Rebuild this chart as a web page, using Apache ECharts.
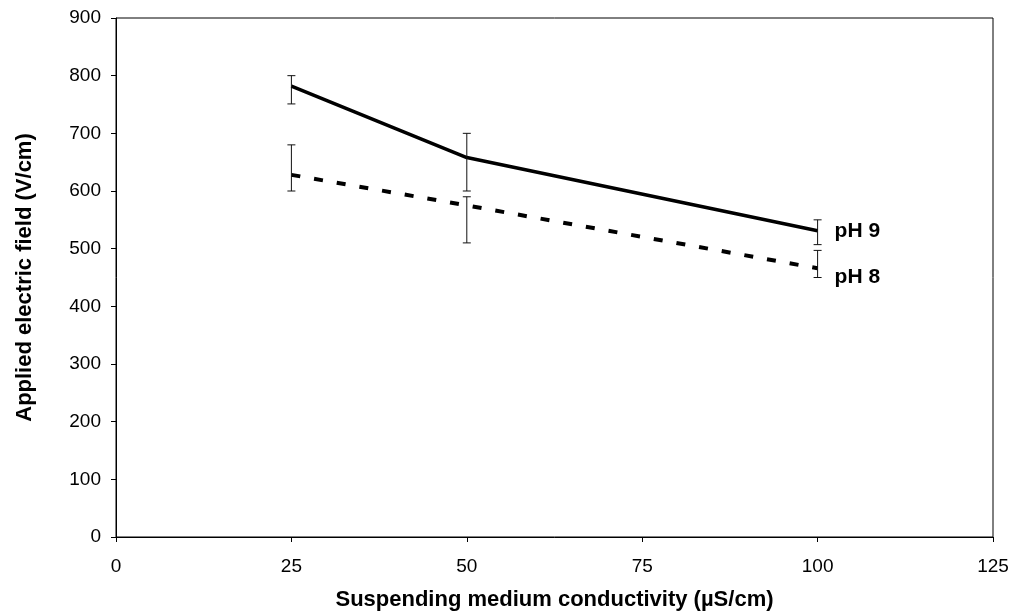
<!DOCTYPE html>
<html>
<head>
<meta charset="utf-8">
<script src="https://cdn.jsdelivr.net/npm/echarts@6/dist/echarts.min.js"></script>
<style>html,body{margin:0;padding:0;background:#fff}#c{width:1013px;height:616px}</style>
</head>
<body>
<div id="c"></div>
<script>
var conductivity = [25, 50, 100];
var ph9 = [782, 658, 531];
var ph9Low = [751, 600, 507];
var ph9High = [800, 700, 550];
var ph8 = [628, 575, 466];
var ph8Low = [600, 510, 450];
var ph8High = [680, 590, 497];
var xTicks = [0, 25, 50, 75, 100, 125];
var yTicks = [0, 100, 200, 300, 400, 500, 600, 700, 800, 900];

function pairs(xs, ys){ return xs.map(function(x,i){return [x, ys[i]];}); }
function errData(xs, lo, hi){ return xs.map(function(x,i){return [x, lo[i], hi[i]];}); }

function errRender(params, api){
  var x = api.value(0);
  var lo = api.coord([x, api.value(1)]);
  var hi = api.coord([x, api.value(2)]);
  var hw = 4;
  var st = {stroke:'#111', lineWidth:1};
  return {type:'group', children:[
    {type:'line', shape:{x1:lo[0],y1:lo[1],x2:hi[0],y2:hi[1]}, style:st},
    {type:'line', shape:{x1:lo[0]-hw,y1:lo[1],x2:lo[0]+hw,y2:lo[1]}, style:st},
    {type:'line', shape:{x1:hi[0]-hw,y1:hi[1],x2:hi[0]+hw,y2:hi[1]}, style:st}
  ]};
}

var font = 'Liberation Sans, Arial, sans-serif';
var chart = echarts.init(document.getElementById('c'));
chart.setOption({
  animation:false,
  grid:{left:116, right:20, top:18, bottom:78, show:true, borderColor:'#000', borderWidth:1},
  xAxis:{type:'value', min:0, max:125, interval:25,
    name:'Suspending medium conductivity (\u00b5S/cm)', nameLocation:'middle', nameGap:52,
    nameTextStyle:{fontFamily:font, fontWeight:'bold', fontSize:22, color:'#000'},
    axisLine:{lineStyle:{color:'#000', width:1}},
    axisTick:{show:true, length:5, inside:false, lineStyle:{color:'#000'}},
    axisLabel:{fontFamily:font, fontSize:19, color:'#000', margin:20,
      formatter:function(v){return xTicks.indexOf(v)>=0 ? String(v) : '';}},
    splitLine:{show:false}},
  yAxis:{type:'value', min:0, max:900, interval:100,
    name:'Applied electric field (V/cm)', nameLocation:'middle', nameGap:80, nameRotate:90,
    nameTextStyle:{fontFamily:font, fontWeight:'bold', fontSize:22, color:'#000'},
    axisLine:{show:true, lineStyle:{color:'#000', width:1}},
    axisTick:{show:true, length:5, inside:false, lineStyle:{color:'#000'}},
    axisLabel:{fontFamily:font, fontSize:19, color:'#000', margin:15,
      formatter:function(v){return yTicks.indexOf(v)>=0 ? String(v) : '';}},
    splitLine:{show:false}},
  series:[
    {type:'line', name:'pH 9', data:pairs(conductivity, ph9), symbol:'none',
      lineStyle:{color:'#000', width:3.5},
      endLabel:{show:true, formatter:'pH 9', fontFamily:font, fontWeight:'bold', fontSize:21, color:'#000', distance:17, offset:[0,0]}},
    {type:'line', name:'pH 8', data:pairs(conductivity, ph8), symbol:'none',
      lineStyle:{color:'#000', width:4, type:[9,14]},
      endLabel:{show:true, formatter:'pH 8', fontFamily:font, fontWeight:'bold', fontSize:21, color:'#000', distance:17, offset:[0,9]}},
    {type:'custom', data:errData(conductivity, ph9Low, ph9High), renderItem:errRender, z:5},
    {type:'custom', data:errData(conductivity, ph8Low, ph8High), renderItem:errRender, z:5}
  ]
});
</script>
</body>
</html>
